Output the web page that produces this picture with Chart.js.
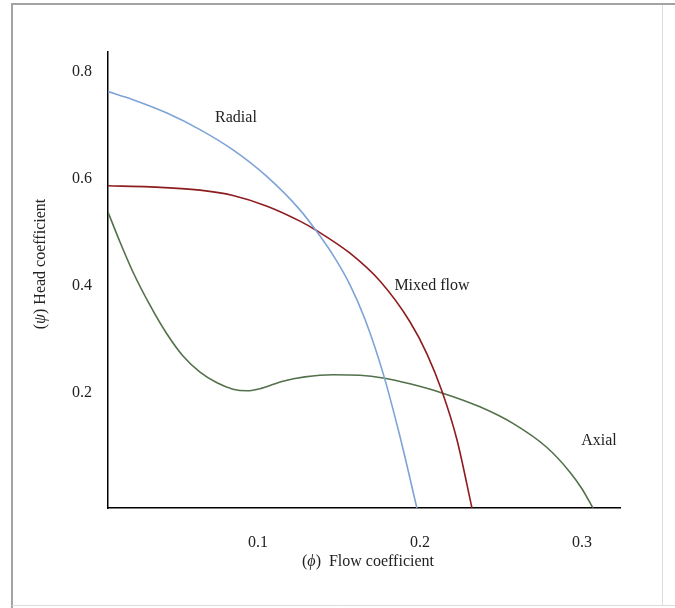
<!DOCTYPE html>
<html>
<head>
<meta charset="utf-8">
<title>Head vs flow coefficient</title>
<script src="https://cdn.jsdelivr.net/npm/chart.js@4.4.1/dist/chart.umd.min.js"></script>
<style>
  html, body { margin: 0; padding: 0; background: #fff; }
  #wrap { width: 675px; height: 608px; }
</style>
</head>
<body>
<div id="wrap"><canvas id="pumpChart" width="675" height="608"></canvas></div>
<script>
// values (phi = flow coefficient, psi = head coefficient)
const radialPhi = [0.0074, 0.0228, 0.0438, 0.0642, 0.0846, 0.1056, 0.1259, 0.1364, 0.1475, 0.1568, 0.1660, 0.1772, 0.1877, 0.1981];
const radialPsi = [0.778, 0.763, 0.738, 0.707, 0.669, 0.619, 0.557, 0.516, 0.467, 0.417, 0.353, 0.252, 0.133, 0];

const mixedPhi = [0.0074, 0.0333, 0.0642, 0.0846, 0.1056, 0.1259, 0.1364, 0.1568, 0.1753, 0.1938, 0.2043, 0.2136, 0.2228, 0.2321];
const mixedPsi = [0.602, 0.600, 0.594, 0.584, 0.564, 0.536, 0.518, 0.476, 0.424, 0.348, 0.288, 0.218, 0.128, 0];

const axialPhi = [0.0074, 0.0148, 0.0228, 0.0333, 0.0438, 0.0537, 0.0642, 0.0747, 0.0846, 0.0932, 0.1025, 0.1154, 0.1290, 0.1463, 0.1630, 0.1772, 0.1938, 0.2136, 0.2370, 0.2574, 0.2784, 0.2926, 0.3000, 0.3068];
const axialPsi = [0.553, 0.497, 0.441, 0.379, 0.325, 0.284, 0.254, 0.234, 0.222, 0.219, 0.224, 0.237, 0.245, 0.249, 0.248, 0.243, 0.232, 0.215, 0.189, 0.158, 0.113, 0.067, 0.036, 0];

const xTicks = [0.1, 0.2, 0.3];
const yTicks = [0.2, 0.4, 0.6, 0.8];
const curveNames = ['Radial', 'Mixed flow', 'Axial'];

const serif = "'Liberation Serif', 'Times New Roman', serif";

function toPoints(xs, ys) {
    return xs.map((x, i) => ({ x: x, y: ys[i] }));
}

// grey frame round the figure
const framePlugin = {
    id: 'frame',
    beforeDraw(chart) {
        const ctx = chart.ctx;
        ctx.save();
        ctx.fillStyle = '#ffffff';
        ctx.fillRect(0, 0, chart.width, chart.height);
        ctx.strokeStyle = '#a3a3a3';
        ctx.lineWidth = 2;
        ctx.beginPath();
        ctx.moveTo(12, 608);
        ctx.lineTo(12, 4);
        ctx.lineTo(675, 4);
        ctx.stroke();
        ctx.strokeStyle = '#dcdcdc';
        ctx.lineWidth = 1;
        ctx.beginPath();
        ctx.moveTo(12, 605.5);
        ctx.lineTo(675, 605.5);
        ctx.moveTo(662.5, 5);
        ctx.lineTo(662.5, 605);
        ctx.stroke();
        ctx.restore();
    }
};

// axis titles with italic greek letters, and the curve names
function drawMixed(ctx, parts, x, y, size) {
    let total = 0;
    parts.forEach(p => {
        ctx.font = (p.italic ? 'italic ' : '') + size + 'px ' + serif;
        p.w = ctx.measureText(p.t).width;
        total += p.w;
    });
    let cx = x - total / 2;
    parts.forEach(p => {
        ctx.font = (p.italic ? 'italic ' : '') + size + 'px ' + serif;
        ctx.fillText(p.t, cx, y);
        cx += p.w;
    });
}

const textPlugin = {
    id: 'texts',
    afterDraw(chart) {
        const ctx = chart.ctx;
        const xs = chart.scales.x;
        const ys = chart.scales.y;
        ctx.save();
        ctx.fillStyle = '#222222';
        ctx.textBaseline = 'middle';
        ctx.textAlign = 'left';

        drawMixed(ctx, [{ t: '(' }, { t: 'ϕ', italic: true }, { t: ')  Flow coefficient' }], 368, 562, 16);

        ctx.save();
        ctx.translate(41, 264);
        ctx.rotate(-Math.PI / 2);
        drawMixed(ctx, [{ t: '(' }, { t: 'ψ', italic: true }, { t: ') Head coefficient' }], 0, 0, 16);
        ctx.restore();

        const anchors = [[0.0864, 0.729], [0.2074, 0.415], [0.3105, 0.125]];
        ctx.font = '16px ' + serif;
        ctx.textAlign = 'center';
        curveNames.forEach((name, i) => {
            ctx.fillText(name, xs.getPixelForValue(anchors[i][0]), ys.getPixelForValue(anchors[i][1]));
        });
        ctx.restore();
    }
};

function makeChart() {
    const ctx = document.getElementById('pumpChart').getContext('2d');
    const lineStyle = { showLine: true, pointRadius: 0, borderWidth: 1.6, fill: false, cubicInterpolationMode: 'monotone' };

    return new Chart(ctx, {
        type: 'scatter',
        data: {
            datasets: [
                Object.assign({ label: curveNames[0], data: toPoints(radialPhi, radialPsi), borderColor: '#7ea3d6' }, lineStyle),
                Object.assign({ label: curveNames[1], data: toPoints(mixedPhi, mixedPsi), borderColor: '#8e1c1f' }, lineStyle),
                Object.assign({ label: curveNames[2], data: toPoints(axialPhi, axialPsi), borderColor: '#53714b' }, lineStyle)
            ]
        },
        options: {
            responsive: false,
            animation: false,
            devicePixelRatio: 1,
            layout: { padding: { top: 52, right: 55, left: 0, bottom: 0 } },
            plugins: {
                legend: { display: false },
                tooltip: { enabled: false }
            },
            scales: {
                x: {
                    type: 'linear',
                    min: 0.0074,
                    max: 0.3235,
                    grid: { display: false },
                    border: { display: true, color: '#000000', width: 1.5 },
                    afterBuildTicks: s => { s.ticks = xTicks.map(v => ({ value: v })); },
                    afterFit: s => { s.height = 100; },
                    ticks: {
                        padding: 17,
                        color: '#222222',
                        font: { family: serif, size: 16 },
                        maxRotation: 0,
                        callback: v => v.toFixed(1)
                    }
                },
                y: {
                    type: 'linear',
                    min: 0,
                    max: 0.852,
                    grid: { display: false },
                    border: { display: true, color: '#000000', width: 1.5 },
                    afterBuildTicks: s => { s.ticks = yTicks.map(v => ({ value: v })); },
                    afterFit: s => { s.width = 108; },
                    ticks: {
                        padding: 8,
                        labelOffset: -8,
                        color: '#222222',
                        font: { family: serif, size: 16 },
                        callback: v => v.toFixed(1)
                    }
                }
            }
        },
        plugins: [framePlugin, textPlugin]
    });
}

document.addEventListener('DOMContentLoaded', makeChart);
</script>
</body>
</html>
